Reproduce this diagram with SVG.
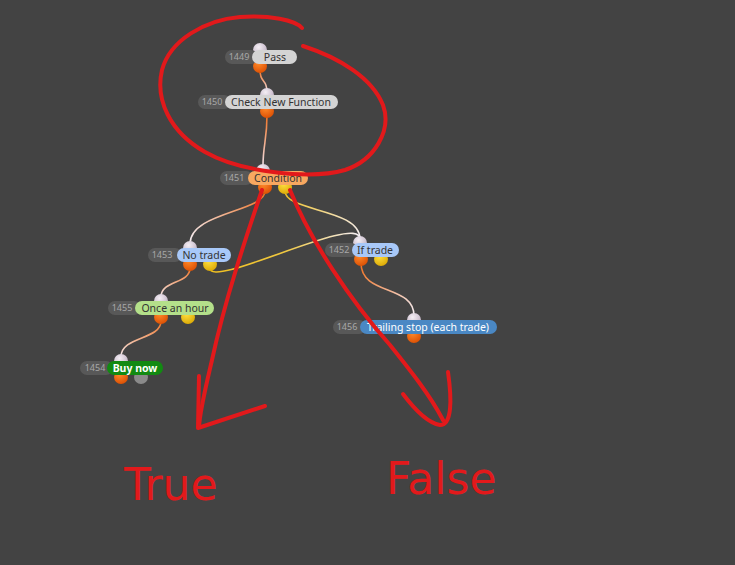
<svg xmlns="http://www.w3.org/2000/svg" width="735" height="565" viewBox="0 0 735 565">
<style>
.idp{fill:#585858}
.idt{font-family:"Noto Sans",sans-serif;font-size:9px;fill:#a8a8a8;text-anchor:middle}
.lbl{font-family:"Noto Sans",sans-serif;font-size:10.5px;fill:#333;text-anchor:middle}
.in{fill:url(#gin)}
.oo{fill:url(#gor)}
.oy{fill:url(#gye)}
.og{fill:#8a8a8a}
.con{fill:none;stroke-width:1.6}
.red{fill:none;stroke:#e2191b;stroke-width:4;stroke-linecap:round;stroke-linejoin:round}
.hand{font-family:"DejaVu Sans",sans-serif;fill:#e2191b}
</style>
<defs>
<radialGradient id="gin" cx="0.4" cy="0.3" r="0.8"><stop offset="0" stop-color="#f4eef4"/><stop offset="1" stop-color="#b8a8bc"/></radialGradient>
<radialGradient id="gor" cx="0.4" cy="0.3" r="0.8"><stop offset="0" stop-color="#ff8a2a"/><stop offset="1" stop-color="#d84a00"/></radialGradient>
<radialGradient id="gye" cx="0.4" cy="0.3" r="0.8"><stop offset="0" stop-color="#ffe040"/><stop offset="1" stop-color="#d8a400"/></radialGradient>
<linearGradient id="k1" gradientUnits="userSpaceOnUse" x1="0" y1="70" x2="0" y2="92"><stop offset="0" stop-color="#f07020"/><stop offset="1" stop-color="#f0e0e8"/></linearGradient>
<linearGradient id="k2" gradientUnits="userSpaceOnUse" x1="0" y1="115" x2="0" y2="166"><stop offset="0" stop-color="#f07020"/><stop offset="1" stop-color="#f0e0e8"/></linearGradient>
<linearGradient id="k3" gradientUnits="userSpaceOnUse" x1="265" y1="191" x2="190" y2="244"><stop offset="0" stop-color="#f07020"/><stop offset="1" stop-color="#f4eef4"/></linearGradient>
<linearGradient id="k4" gradientUnits="userSpaceOnUse" x1="285" y1="191" x2="360" y2="239"><stop offset="0" stop-color="#f0c020"/><stop offset="1" stop-color="#f4eef4"/></linearGradient>
<linearGradient id="k5" gradientUnits="userSpaceOnUse" x1="210" y1="268" x2="360" y2="239"><stop offset="0" stop-color="#f0c020"/><stop offset="0.5" stop-color="#f0c840"/><stop offset="1" stop-color="#f4eef4"/></linearGradient>
<linearGradient id="k6" gradientUnits="userSpaceOnUse" x1="0" y1="268" x2="0" y2="297"><stop offset="0" stop-color="#f07020"/><stop offset="1" stop-color="#f4eef4"/></linearGradient>
<linearGradient id="k7" gradientUnits="userSpaceOnUse" x1="0" y1="321" x2="0" y2="357"><stop offset="0" stop-color="#f07020"/><stop offset="1" stop-color="#f4eef4"/></linearGradient>
<linearGradient id="k8" gradientUnits="userSpaceOnUse" x1="361" y1="263" x2="414" y2="316"><stop offset="0" stop-color="#f07020"/><stop offset="1" stop-color="#f4eef4"/></linearGradient>
</defs>
<rect width="735" height="565" fill="#434343"/>
<g id="connectors">
<path class="con" stroke="url(#k1)" d="M260,70 C260,84 267,78 267,92"/>
<path class="con" stroke="url(#k2)" d="M267,115 C267,140 263,145 263,166"/>
<path class="con" stroke="url(#k3)" d="M265,191 C265,212 190,212 190,244"/>
<path class="con" stroke="url(#k4)" d="M285,191 C285,212 360,208 360,239"/>
<path class="con" stroke="url(#k5)" d="M210,268 C210,290 360,212 360,239"/>
<path class="con" stroke="url(#k6)" d="M190,268 C190,284 161,280 161,297"/>
<path class="con" stroke="url(#k7)" d="M161,321 C161,340 121,336 121,357"/>
<path class="con" stroke="url(#k8)" d="M361,263 C361,296 414,284 414,316"/>
</g>
<g id="n1449">
<circle class="in" cx="260" cy="50" r="7"/><circle class="oo" cx="260" cy="66" r="7"/>
<rect class="idp" x="225" y="50" width="33" height="14" rx="7"/>
<rect x="252" y="50" width="45" height="14" rx="7" fill="#d4d4d4"/>
<text class="idt" x="239" y="60">1449</text><text class="lbl" x="275" y="61">Pass</text>
</g>
<g id="n1450">
<circle class="in" cx="267" cy="95" r="7"/><circle class="oo" cx="267" cy="111" r="7"/>
<rect class="idp" x="198" y="95" width="33" height="14" rx="7"/>
<rect x="225" y="95" width="113" height="14" rx="7" fill="#d4d4d4"/>
<text class="idt" x="212" y="105">1450</text><text class="lbl" x="281" y="106">Check New Function</text>
</g>
<g id="n1451">
<circle class="in" cx="263" cy="171" r="7"/><circle class="oo" cx="265" cy="187" r="7"/><circle class="oy" cx="285" cy="187" r="7"/>
<rect class="idp" x="220" y="171" width="33" height="14" rx="7"/>
<rect x="248" y="171" width="60" height="14" rx="7" fill="#f8a860"/>
<text class="idt" x="234" y="181">1451</text><text class="lbl" x="278" y="182">Condition</text>
</g>
<g id="n1453">
<circle class="in" cx="190" cy="248" r="7"/><circle class="oo" cx="190" cy="264" r="7"/><circle class="oy" cx="210" cy="264" r="7"/>
<rect class="idp" x="148" y="248" width="34" height="14" rx="7"/>
<rect x="177" y="248" width="54" height="14" rx="7" fill="#a8c8f8"/>
<text class="idt" x="162" y="258">1453</text><text class="lbl" x="204" y="259">No trade</text>
</g>
<g id="n1452">
<circle class="in" cx="360" cy="243" r="7"/><circle class="oo" cx="361" cy="259" r="7"/><circle class="oy" cx="381" cy="259" r="7"/>
<rect class="idp" x="325" y="243" width="33" height="14" rx="7"/>
<rect x="352" y="243" width="47" height="14" rx="7" fill="#a8c8f8"/>
<text class="idt" x="339" y="253">1452</text><text class="lbl" x="375" y="254">If trade</text>
</g>
<g id="n1455">
<circle class="in" cx="161" cy="301" r="7"/><circle class="oo" cx="161" cy="317" r="7"/><circle class="oy" cx="188" cy="317" r="7"/>
<rect class="idp" x="108" y="301" width="33" height="14" rx="7"/>
<rect x="135" y="301" width="79" height="14" rx="7" fill="#b4e08a"/>
<text class="idt" x="122" y="311">1455</text><text class="lbl" x="175" y="312">Once an hour</text>
</g>
<g id="n1454">
<circle class="in" cx="121" cy="361" r="7"/><circle class="oo" cx="121" cy="377" r="7"/><circle class="og" cx="141" cy="377" r="7"/>
<rect class="idp" x="80" y="361" width="33" height="14" rx="7"/>
<rect x="107" y="361" width="56" height="14" rx="7" fill="#128a12"/>
<text class="idt" x="95" y="371">1454</text><text class="lbl" x="135" y="372" style="fill:#fff;font-weight:bold">Buy now</text>
</g>
<g id="n1456">
<circle class="in" cx="414" cy="320" r="7"/><circle class="oo" cx="414" cy="336" r="7"/>
<rect class="idp" x="333" y="320" width="33" height="14" rx="7"/>
<rect x="360" y="320" width="137" height="14" rx="7" fill="#4a88c4"/>
<text class="idt" x="347" y="330">1456</text><text class="lbl" x="428" y="331" style="fill:#fff">Trailing stop (each trade)</text>
</g>
<g id="annotations">
<path class="red" d="M303,46 C340,58 372,78 383,105 C392,130 375,160 345,170 C310,180 240,172 205,152 C170,132 155,100 162,70 C170,40 205,20 240,17 C270,15 295,20 302,28"/>
<path class="red" d="M262,190 C245,240 225,300 212,360 C205,390 200,410 199,427"/>
<path class="red" d="M199,376 L198,428 L265,406"/>
<path class="red" d="M290,190 C310,240 350,300 390,345 C410,370 430,395 443,420"/>
<path class="red" d="M403,394 C415,410 428,423 440,425 C452,425 452,400 448,372"/>
<text class="hand" x="124" y="500" font-size="44">True</text>
<text class="hand" x="386" y="494" font-size="44">False</text>
</g>
</svg>
